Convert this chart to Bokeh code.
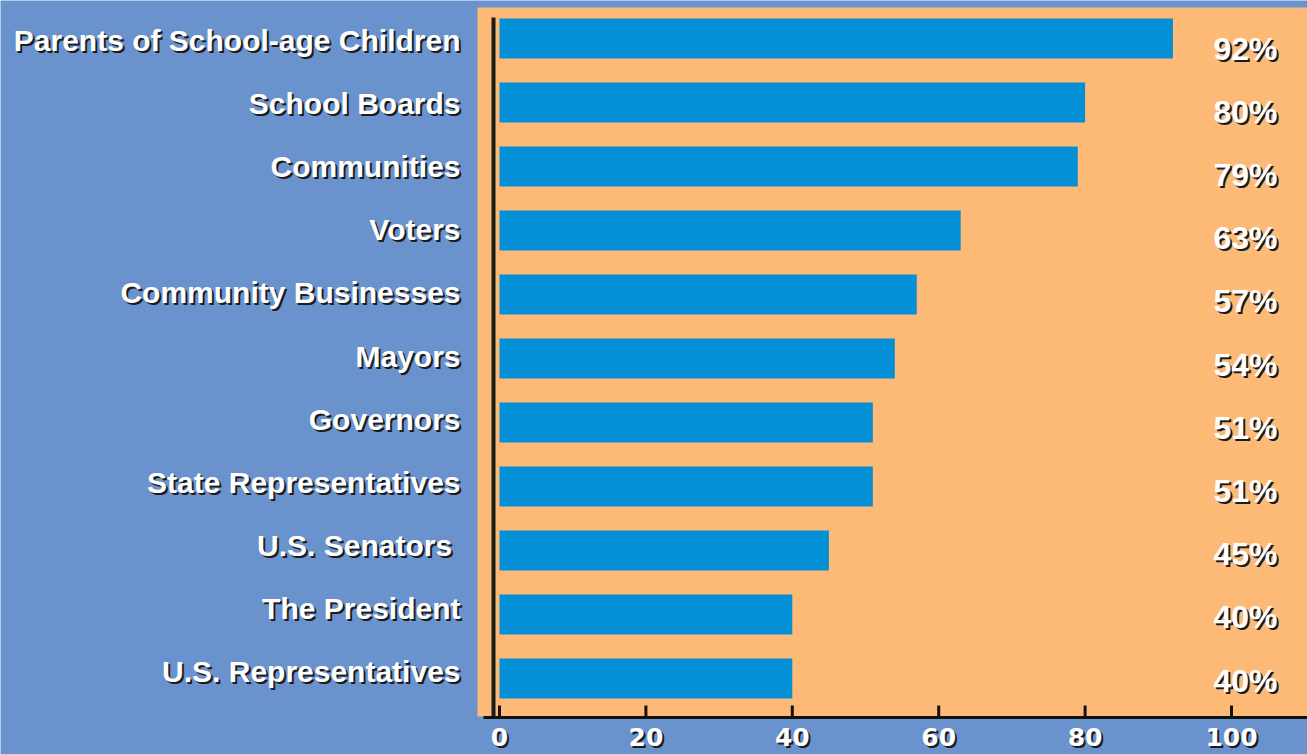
from bokeh.plotting import figure
from bokeh.models import Range1d, ColumnDataSource
from bokeh.core.properties import value
from bokeh.embed import file_html
from bokeh.resources import INLINE

categories = ["Parents of School-age Children", "School Boards", "Communities", "Voters",
              "Community Businesses", "Mayors", "Governors", "State Representatives",
              "U.S. Senators ", "The President", "U.S. Representatives"]
values = [92, 80, 79, 63, 57, 54, 51, 51, 45, 40, 40]
x_ticks = [0, 20, 40, 60, 80, 100]

BLUE = "#6A93CD"
ORANGE = "#FDBA77"
BAR = "#038FD6"
SHADOW = "#1c1c1c"
FONT = "Liberation Sans"
TICK_FONT = "DejaVu Sans"

W, H = 1307, 754
n = len(categories)
ypos = [n - 1 - i for i in range(n)]

# layout: pixel scale of the value axis and category spacing
PX_X = 7.32          # px per percentage point
ZERO_PX = 499        # canvas x of value 0
PX_Y = 64            # px per category
TOP_PX = 38          # canvas y of the first bar centre

def xd(px):
    return (px - ZERO_PX) / PX_X

def yd(py):
    return (n - 1) - (py - TOP_PX) / PX_Y

p = figure(width=W, height=H, output_backend="svg", toolbar_location=None,
           x_range=Range1d(xd(0), xd(W)), y_range=Range1d(yd(H), yd(0)),
           min_border=0, border_fill_color=BLUE, background_fill_color=BLUE,
           outline_line_color=None)
p.xaxis.visible = False
p.yaxis.visible = False
p.xgrid.visible = False
p.ygrid.visible = False

# orange panel
p.quad(left=xd(477), right=xd(W + 5), top=yd(7), bottom=yd(716), fill_color=ORANGE, line_color=None)

# label rows are spaced slightly tighter than the bars in the original artwork
cat_y = [yd(40 + 63.1 * i) for i in range(n)]
pct_y = [yd(48 + 63.2 * i) for i in range(n)]

src = ColumnDataSource(dict(y=ypos, v=values, ly=pct_y, lab=[f"{v}%" for v in values]))
p.hbar(y="y", left=0, right="v", height=0.625, source=src, fill_color=BAR, line_color=None)

# vertical baseline
p.segment(x0=xd(493), x1=xd(493), y0=yd(718), y1=yd(17), line_color="#1a1a1a", line_width=4)

# value axis: line, ticks, labels
p.segment(x0=xd(483), x1=xd(W + 5), y0=yd(717), y1=yd(717), line_color="#111111", line_width=3)
tsrc = ColumnDataSource(dict(x=x_ticks, t=[str(t) for t in x_ticks]))
p.segment(x0="x", x1="x", y0=yd(717), y1=yd(705), source=tsrc, line_color="#111111", line_width=3)
for dx, dy, col in [(2, 2, SHADOW), (0, 0, "white")]:
    p.text(x="x", y=yd(736), text="t", source=tsrc, text_align="center", text_baseline="middle",
           x_offset=dx, y_offset=dy, text_color=col, text_font=value(TICK_FONT),
           text_font_style="bold", text_font_size="25px")

# percent labels
for dx, dy, col in [(2, 2, SHADOW), (0, 0, "white")]:
    p.text(x=xd(1245), y="ly", text="lab", source=src, text_align="center", text_baseline="middle",
           x_offset=dx, y_offset=dy, text_color=col, text_font=value(FONT),
           text_font_style="bold", text_font_size="32px")

# category labels
csrc = ColumnDataSource(dict(y=cat_y, c=categories))
for dx, dy, col in [(2, 2, SHADOW), (0, 0, "white")]:
    p.text(x=xd(460), y="y", text="c", source=csrc, text_align="right", text_baseline="middle",
           x_offset=dx, y_offset=dy, text_color=col, text_font=value(FONT),
           text_font_style="bold", text_font_size="30px")

open("out.html", "w").write(file_html(p, INLINE))
